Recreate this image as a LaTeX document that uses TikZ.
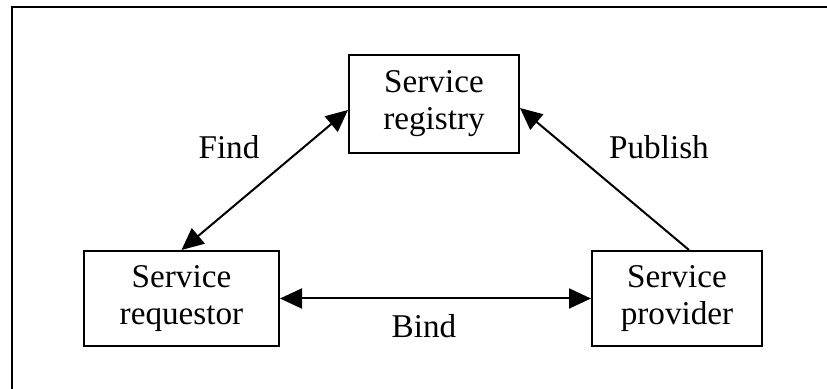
\documentclass[tikz,border=0pt]{standalone}
\usepackage{fontspec}
\setmainfont{Liberation Serif}
\usetikzlibrary{arrows.meta}
\begin{document}
\begin{tikzpicture}[x=0.5pt,y=-0.5pt,
  every node/.style={font=\fontsize{16.6}{18.5}\selectfont},
  role/.style={draw, line width=1pt, align=center, inner sep=0pt},
  link/.style={line width=1pt, -{Triangle[length=11pt,width=10pt]}},
  dlink/.style={line width=1pt, {Triangle[length=11pt,width=10pt]}-{Triangle[length=11pt,width=10pt]}},
  tag/.style={inner sep=0pt}]
  \useasboundingbox (0,0) rectangle (827,389);
  % open frame: left side and top only
  \draw[line width=1pt] (12,389) -- (12,7) -- (827,7);

  \node[role, minimum width=85pt, minimum height=49pt] (reg) at (434,104) {Service\\registry};
  \node[role, minimum width=97.5pt, minimum height=47.5pt] (req) at (181.5,298.5) {Service\\requestor};
  \node[role, minimum width=85pt, minimum height=47.5pt] (prov) at (677,298.5) {Service\\provider};

  \draw[dlink] (req.north) -- ([yshift=-3pt]reg.west);
  \draw[link] ([xshift=6pt]prov.north) -- ([yshift=-2pt]reg.east);
  \draw[dlink] (req.east) -- (prov.west);

  \node[tag] (find) at (229,147) {Find};
  \node[tag] (pub) at (659,147) {Publish};
  \node[tag] (bind) at (424,326) {Bind};
\end{tikzpicture}
\end{document}
